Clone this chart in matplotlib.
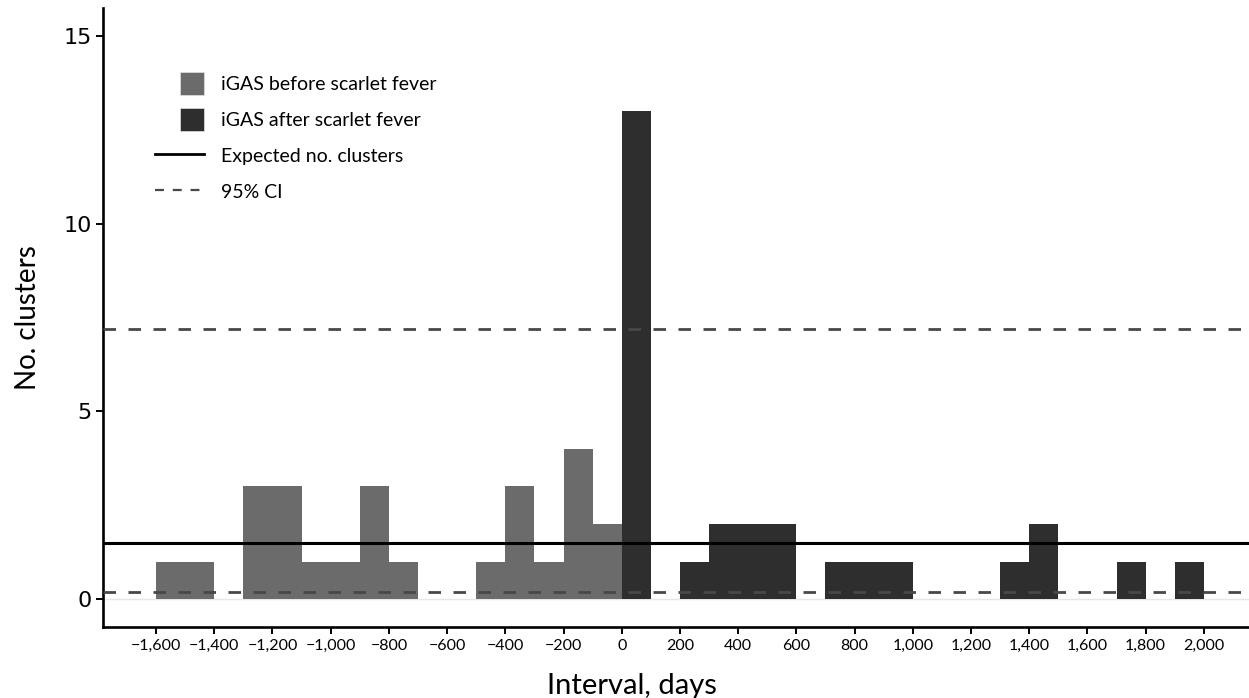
import matplotlib
matplotlib.use("Agg")
import matplotlib.pyplot as plt
from matplotlib.patches import Patch, Rectangle
from matplotlib.lines import Line2D
from matplotlib.legend_handler import HandlerPatch

# Data: 100-day bins, left edges
bin_left = list(range(-1600, 2000, 100))
before_counts = [1, 1, 0, 3, 3, 1, 1, 3, 1, 0, 0, 1, 3, 1, 4, 2]  # -1600 .. -100
after_counts = [13, 0, 1, 2, 2, 2, 0, 1, 1, 1, 0, 0, 0, 1, 2, 0, 0, 1, 0, 1]  # 0 .. 1900
expected = 1.48
ci_low = 0.19
ci_high = 7.20
xticks = list(range(-1600, 2001, 200))
xtick_labels = ["\u22121,600", "\u22121,400", "\u22121,200", "\u22121,000", "\u2212800", "\u2212600",
                "\u2212400", "\u2212200", "0", "200", "400", "600", "800", "1,000", "1,200",
                "1,400", "1,600", "1,800", "2,000"]
yticks = [0, 5, 10, 15]

plt.rcParams['font.family'] = ['Lato', 'DejaVu Sans']

fig = plt.figure(figsize=(12.49, 6.98), dpi=100)
ax = fig.add_axes([0.0825, 0.102, 0.9175, 0.8865])

before_x = bin_left[:len(before_counts)]
after_x = bin_left[len(before_counts):]

ax.axhline(0, color='#e6e6e6', linewidth=1.0, zorder=1)
ax.bar(before_x, before_counts, width=100, align='edge', color='#6b6b6b',
       linewidth=0, zorder=2)
ax.bar(after_x, after_counts, width=100, align='edge', color='#2e2e2e',
       linewidth=0, zorder=2)

ax.axhline(expected, color='black', linewidth=2.2, zorder=3)
ax.axhline(ci_high, color='#484848', linewidth=2.0, linestyle=(0, (4.5, 4.5)), zorder=3)
ax.axhline(ci_low, color='#484848', linewidth=2.0, linestyle=(0, (4.5, 4.5)), zorder=3)

ax.set_xlim(-1782, 2155)
ax.set_ylim(-0.74, 15.75)
ax.set_xticks(xticks)
ax.set_xticklabels(xtick_labels, fontsize=11.5)
ax.set_yticks(yticks)
ax.set_yticklabels([str(v) for v in yticks], fontsize=16, family=['DejaVu Sans'])

for side in ['top', 'right']:
    ax.spines[side].set_visible(False)
for side in ['left', 'bottom']:
    ax.spines[side].set_linewidth(1.9)
ax.tick_params(axis='both', width=1.4, length=5, color='black')
ax.tick_params(axis='x', pad=4)
ax.tick_params(axis='y', pad=3)

ax.set_xlabel('Interval, days', fontsize=21)
ax.xaxis.set_label_coords(0.4616, -0.075)
ax.set_ylabel('No. clusters', fontsize=20, labelpad=16)


def square_patch(legend, orig_handle, xdescent, ydescent, width, height, fontsize):
    s = height * 1.35
    return Rectangle((width - s, (height - s) / 2 - ydescent), s, s)


handles = [
    Patch(facecolor='#6b6b6b', edgecolor='#e2e2e2', linewidth=0.5, label='iGAS before scarlet fever'),
    Patch(facecolor='#2e2e2e', edgecolor='#e2e2e2', linewidth=0.5, label='iGAS after scarlet fever'),
    Line2D([0], [0], color='black', linewidth=2, label='Expected no. clusters'),
    Line2D([0], [0], color='#484848', linewidth=1.6, linestyle=(0, (4, 4)), label='95% CI'),
]
ax.legend(handles=handles, loc='upper left', bbox_to_anchor=(0.03, 0.92), frameon=False,
          fontsize=14, handlelength=2.5, handleheight=1.0, labelspacing=0.9, handletextpad=0.9,
          handler_map={Patch: HandlerPatch(patch_func=square_patch)})

fig.savefig('out.png', dpi=100)
